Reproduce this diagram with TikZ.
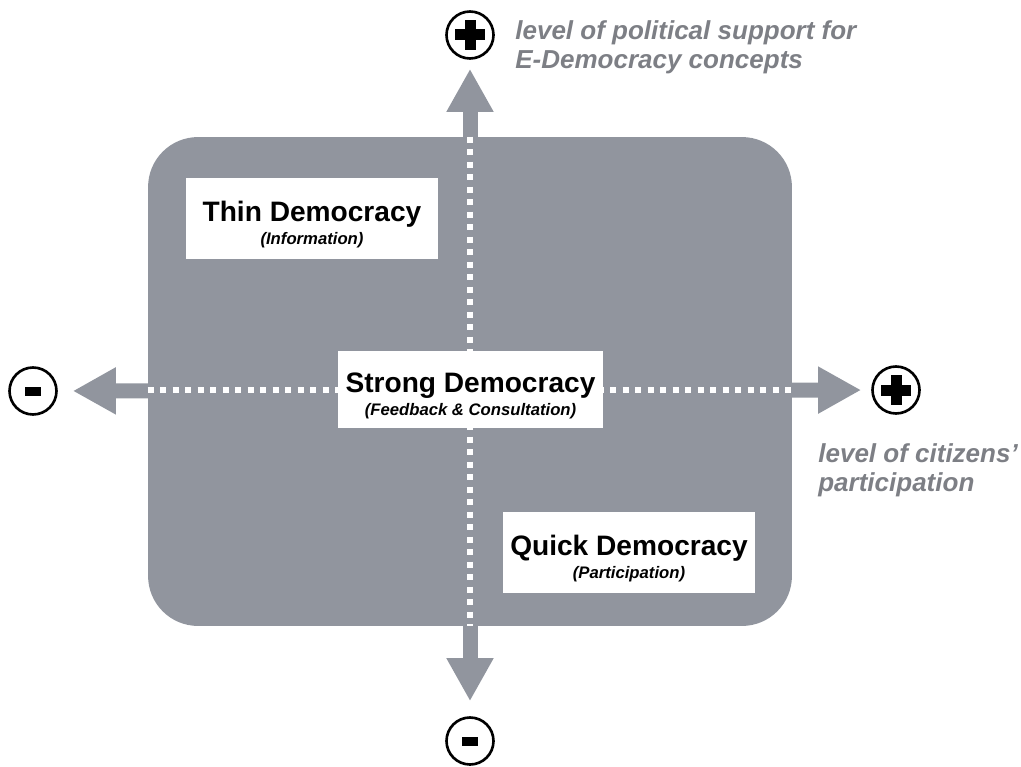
\documentclass[tikz,border=0pt]{standalone}
\usepackage{fontspec}
\setmainfont{Liberation Sans}
\usetikzlibrary{arrows.meta}
\definecolor{panelgray}{RGB}{145,149,158}
\definecolor{labelgray}{RGB}{125,127,133}

\begin{document}
\begin{tikzpicture}[x=0.02cm, y=-0.02cm, font=\bfseries,
    sign/.style={circle, draw, line width=1.5pt, minimum size=0.94cm, inner sep=0pt},
    plussign/.style={sign, path picture={
        \fill ([xshift=-0.3cm, yshift=-0.11cm]path picture bounding box.center) rectangle ++(0.6cm,0.22cm);
        \fill ([xshift=-0.11cm, yshift=-0.3cm]path picture bounding box.center) rectangle ++(0.22cm,0.6cm);}},
    minussign/.style={sign, path picture={
        \fill ([xshift=-0.16cm, yshift=-0.09cm]path picture bounding box.center) rectangle ++(0.32cm,0.18cm);}},
    axis/.style={panelgray, line width=0.3cm, {Triangle[width=0.88cm, length=0.86cm]}-{Triangle[width=0.88cm, length=0.86cm]}},
    dots/.style={white, line width=0.12cm, dash pattern=on 0.12cm off 0.13cm},
    typebox/.style={fill=white, minimum width=5.04cm, minimum height=1.62cm, align=center, inner sep=0pt, text height=31pt, font=\fontsize{9.5}{13}\selectfont\bfseries},
    axislabel/.style={labelgray, anchor=north west, inner sep=0pt, align=left, font=\fontsize{14.8}{16.5}\selectfont\bfseries\itshape}]
\useasboundingbox (0,0) rectangle (1021,767);

\node[fill=panelgray, rounded corners=1cm, minimum width=12.88cm, minimum height=9.78cm, inner sep=0pt] (panel) at (470,381.5) {};

\node[minussign] (minusL) at (33,391) {};
\node[plussign] (plusR) at (896,390) {};
\node[plussign] (plusT) at (470,35) {};
\node[minussign] (minusB) at (470,741) {};

\draw[axis, shorten <=0.3cm, shorten >=0.2cm] (minusL) -- (plusR);
\draw[axis, shorten <=0.3cm, shorten >=0.18cm] (minusB) -- (plusT);
\draw[dots] (panel.west |- plusR) -- (panel.east |- plusR);
\draw[dots] (panel.north -| plusT) -- (panel.south -| plusT);

\node[typebox] (thin) at (312,218.5) {{\fontsize{16}{19}\selectfont Thin Democracy}\\{\itshape (Information)}};
\node[typebox, minimum width=5.3cm, minimum height=1.54cm] (strong) at (470.5,389.5) {{\fontsize{16}{19}\selectfont Strong Democracy}\\{\itshape (Feedback \& Consultation)}};
\node[typebox] (quick) at (629,552.5) {{\fontsize{16}{19}\selectfont Quick Democracy}\\{\itshape (Participation)}};

\node[axislabel] (supportlabel) at (515,20) {level of political support for\\E-Democracy concepts};
\node[axislabel] (citizenlabel) at (818,443) {level of citizens’\\participation};
\end{tikzpicture}
\end{document}
